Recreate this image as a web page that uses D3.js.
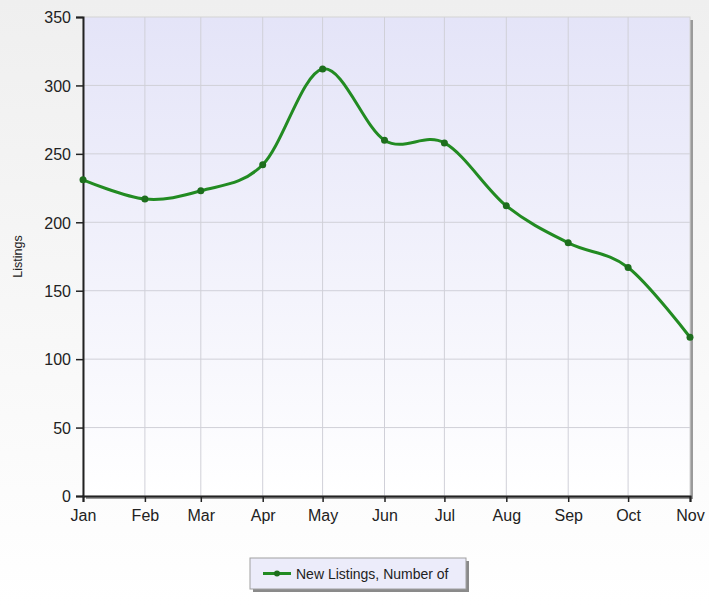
<!DOCTYPE html>
<html><head><meta charset="utf-8">
<script src="https://cdn.jsdelivr.net/npm/d3@7"></script>
<style>html,body{margin:0;padding:0;overflow:hidden;}</style>
</head><body>
<script>
const months = ["Jan","Feb","Mar","Apr","May","Jun","Jul","Aug","Sep","Oct","Nov"];
const monthIndex = [0,1,2,3,4,5,6,7,8,9,10];
const listings = [231,217,223,242,312,260,258,212,185,167,116];
const yTicks = [0,50,100,150,200,250,300,350];
const seriesName = "New Listings, Number of";
const yTitle = "Listings";

const W = 709, H = 605;
const m = {left:83, top:17, right:19, bottom:109};
const svg = d3.select("body").append("svg").attr("width",W).attr("height",H);
const defs = svg.append("defs");
const bg = defs.append("linearGradient").attr("id","bg").attr("x1",0).attr("y1",0).attr("x2",0).attr("y2",1);
bg.append("stop").attr("offset","0%").attr("stop-color","#efefef");
bg.append("stop").attr("offset","100%").attr("stop-color","#ffffff");
const pg = defs.append("linearGradient").attr("id","pg").attr("x1",0).attr("y1",0).attr("x2",0).attr("y2",1);
pg.append("stop").attr("offset","0%").attr("stop-color","#e4e4f8");
pg.append("stop").attr("offset","100%").attr("stop-color","#ffffff");

svg.append("rect").attr("width",W).attr("height",H).attr("fill","url(#bg)");

const dates = monthIndex.map(i => new Date(2013, i, 1));
const x = d3.scaleTime().domain([dates[0], dates[dates.length-1]]).range([m.left, W-m.right]);
const y = d3.scaleLinear().domain([0,350]).range([H-m.bottom, m.top]);

const x0 = x.range()[0], x1 = x.range()[1], y0 = y.range()[0], y1 = y.range()[1];

// shadow
svg.append("rect").attr("x",x0+3).attr("y",y1+3).attr("width",x1-x0).attr("height",y0-y1).attr("fill","#9a9a9a");
svg.append("rect").attr("x",x0).attr("y",y1).attr("width",x1-x0).attr("height",y0-y1).attr("fill","url(#pg)").attr("stroke","#d4d4d4");

// grid
svg.append("g").selectAll("line").data(yTicks.slice(1,-1)).join("line")
  .attr("x1",x0).attr("x2",x1).attr("y1",d=>y(d)).attr("y2",d=>y(d))
  .attr("stroke","#d0d0d8").attr("stroke-width",1);
svg.append("g").selectAll("line").data(dates.slice(1,-1)).join("line")
  .attr("x1",d=>x(d)).attr("x2",d=>x(d)).attr("y1",y1).attr("y2",y0)
  .attr("stroke","#d0d0d8").attr("stroke-width",1);

// axes
const yAxis = svg.append("g").attr("transform",`translate(${x0},0)`)
  .call(d3.axisLeft(y).tickValues(yTicks).tickSize(7).tickPadding(5));
const xAxis = svg.append("g").attr("transform",`translate(0,${y0})`)
  .call(d3.axisBottom(x).tickValues(dates).tickFormat((d,i)=>months[i]).tickSize(6).tickPadding(8));
[yAxis,xAxis].forEach(a=>{
  a.select(".domain").attr("stroke","#222").attr("stroke-width",2);
  a.selectAll(".tick line").attr("stroke","#222").attr("stroke-width",1.5);
  a.selectAll("text").attr("fill","#222").style("font-family","'Liberation Sans', Arial, sans-serif").style("font-size","16px");
});
yAxis.selectAll("text").attr("dy","0.36em");

svg.append("text").attr("transform",`translate(22,${(y0+y1)/2}) rotate(-90)`)
  .attr("text-anchor","middle").style("font-family","'Liberation Sans', Arial, sans-serif")
  .style("font-size","12.5px").attr("fill","#222").text(yTitle);

// line
const pts = dates.map((d,i)=>[x(d), y(listings[i])]);
svg.append("path").attr("d", d3.line().curve(d3.curveCardinal.tension(0))(pts))
  .attr("fill","none").attr("stroke","#228b22").attr("stroke-width",3);
svg.append("g").selectAll("circle").data(pts).join("circle")
  .attr("cx",d=>d[0]).attr("cy",d=>d[1]).attr("r",3.5).attr("fill","#1d6e1d");

// legend
const lg = svg.append("g").attr("transform","translate(250,558)");
lg.append("rect").attr("x",3).attr("y",3).attr("width",216).attr("height",31).attr("fill","#8a8a8a");
lg.append("rect").attr("width",216).attr("height",31).attr("fill","#ececfa").attr("stroke","#a0a0a0");
lg.append("line").attr("x1",13).attr("x2",41).attr("y1",15.5).attr("y2",15.5).attr("stroke","#228b22").attr("stroke-width",3);
lg.append("circle").attr("cx",27).attr("cy",15.5).attr("r",3).attr("fill","#1d6e1d");
lg.append("text").attr("x",46).attr("y",20.5).style("font-family","'Liberation Sans', Arial, sans-serif")
  .style("font-size","14px").attr("fill","#222").text(seriesName);
</script>
</body></html>
